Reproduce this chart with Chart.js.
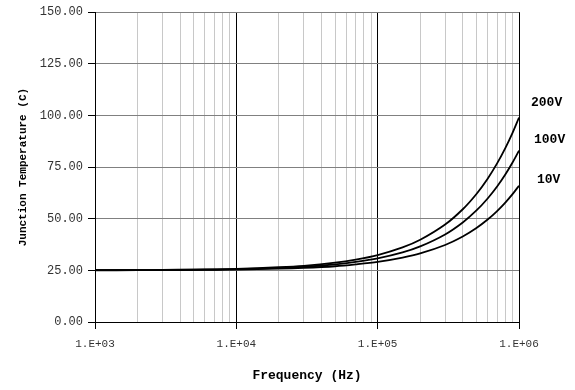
<!DOCTYPE html>
<html>
<head>
<meta charset="utf-8">
<script src="https://cdn.jsdelivr.net/npm/chart.js@4/dist/chart.umd.min.js"></script>
<style>
  html, body { margin: 0; padding: 0; background: #fff; }
  #wrap { width: 575px; height: 390px; }
</style>
</head>
<body>
<div id="wrap"><canvas id="c" width="575" height="390"></canvas></div>
<script>
// ---- data ----
const frequencies = [1000, 2000, 3000, 5000, 7000, 10000, 20000, 30000, 50000, 70000, 100000, 150000, 200000, 300000, 400000, 500000, 600000, 700000, 800000, 900000, 1000000];
const temp200V = [25.1, 25.1, 25.2, 25.4, 25.5, 25.7, 26.5, 27.2, 28.7, 30.2, 32.4, 36.1, 39.8, 47.2, 54.6, 62.0, 69.4, 76.8, 84.2, 91.6, 99.0];
const temp100V = [25.1, 25.1, 25.2, 25.3, 25.4, 25.6, 26.2, 26.7, 27.9, 29.1, 30.8, 33.7, 36.6, 42.4, 48.2, 54.0, 59.8, 65.6, 71.4, 77.2, 83.0];
const temp10V  = [25.0, 25.1, 25.1, 25.2, 25.3, 25.4, 25.8, 26.2, 27.0, 27.9, 29.1, 31.2, 33.2, 37.3, 41.4, 45.5, 49.6, 53.7, 57.8, 61.9, 66.0];
const seriesLabels = ['200V', '100V', '10V'];
const yTickValues = [0, 25, 50, 75, 100, 125, 150];
const decades = [1000, 10000, 100000, 1000000];
const multipliers = [1, 2, 3, 4, 5, 6, 7, 8, 9];

const xGridValues = [];
decades.forEach(d => multipliers.forEach(m => { if (d * m <= 1000000) xGridValues.push(d * m); }));
const isMajor = v => decades.some(d => Math.abs(d - v) < 1e-6);
const fmtSci = v => '1.E+' + String(Math.round(Math.log10(v))).padStart(2, '0');

const seriesData = [temp200V, temp100V, temp10V];

const endLabels = {
  id: 'endLabels',
  afterDraw(chart) {
    const ctx = chart.ctx;
    const area = chart.chartArea;
    const offsets = [[12, 103], [15, 140], [18, 180]];
    ctx.save();
    ctx.font = 'bold 13px "Liberation Mono", monospace';
    ctx.fillStyle = '#000';
    ctx.textBaseline = 'middle';
    ctx.textAlign = 'left';
    seriesLabels.forEach((lab, i) => {
      ctx.fillText(lab, area.right + offsets[i][0], offsets[i][1]);
    });
    ctx.restore();
  }
};

new Chart(document.getElementById('c'), {
  type: 'line',
  data: {
    datasets: seriesLabels.map((lab, i) => ({
      label: lab,
      data: frequencies.map((f, j) => ({ x: f, y: seriesData[i][j] })),
      borderColor: '#000',
      borderWidth: 1.8,
      pointRadius: 0,
      tension: 0.3,
      fill: false
    }))
  },
  options: {
    responsive: false,
    animation: false,
    layout: { padding: { top: 12, right: 56, left: 0, bottom: 0 } },
    plugins: { legend: { display: false }, tooltip: { enabled: false } },
    scales: {
      x: {
        type: 'logarithmic',
        min: 1000,
        max: 1000000,
        afterBuildTicks(scale) { scale.ticks = xGridValues.map(v => ({ value: v, major: isMajor(v) })); },
        afterFit(scale) { scale.height = 68; },
        border: { color: '#000', width: 1 },
        grid: {
          color: ctx => isMajor(ctx.tick.value) ? '#000' : '#c8c8c8',
          tickColor: ctx => isMajor(ctx.tick.value) ? '#000' : 'rgba(0,0,0,0)',
          tickLength: 7,
          lineWidth: 1
        },
        ticks: {
          autoSkip: false,
          maxRotation: 0,
          padding: 8,
          color: '#333',
          font: { family: '"Liberation Mono", monospace', size: 11 },
          callback: v => isMajor(v) ? fmtSci(v) : ''
        },
        title: {
          display: true,
          text: 'Frequency (Hz)',
          color: '#000',
          font: { family: '"Liberation Mono", monospace', size: 13, weight: 'bold' },
          padding: { top: 0, bottom: 6 }
        }
      },
      y: {
        min: 0,
        max: 150,
        afterBuildTicks(scale) { scale.ticks = yTickValues.map(v => ({ value: v })); },
        afterFit(scale) { scale.width = 95; },
        border: { color: '#000', width: 1 },
        grid: {
          color: '#808080',
          tickColor: '#000',
          tickLength: 7,
          lineWidth: 1
        },
        ticks: {
          padding: 5,
          color: '#333',
          font: { family: '"Liberation Mono", monospace', size: 12 },
          callback: v => Number(v).toFixed(2)
        },
        title: {
          display: true,
          text: 'Junction Temperature (C)',
          color: '#000',
          font: { family: '"Liberation Mono", monospace', size: 11, weight: 'bold' },
          padding: { top: 17, bottom: 0 }
        }
      }
    }
  },
  plugins: [endLabels]
});
</script>
</body>
</html>
